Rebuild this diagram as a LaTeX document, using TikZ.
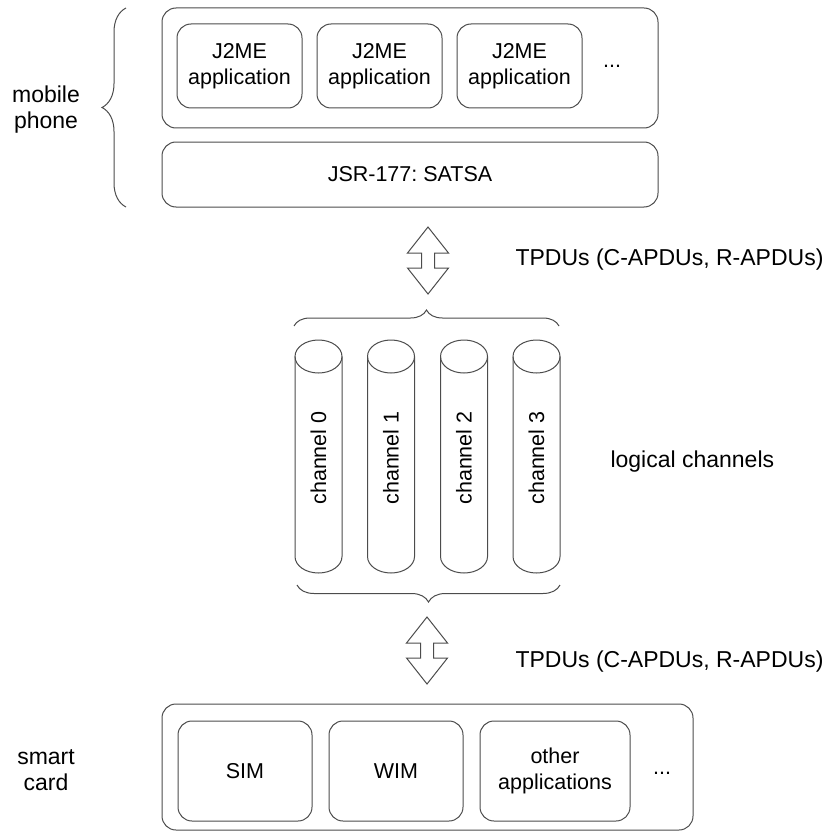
\documentclass[tikz,border=0pt]{standalone}
\usepackage{fontspec}
\setmainfont{Liberation Sans}
\usetikzlibrary{positioning,calc,decorations.pathreplacing}

\begin{document}
\frenchspacing
\begin{tikzpicture}[
    x=1pt, y=-1pt,
    font=\fontsize{21.5}{26}\selectfont,
    node distance=15pt,
    lbl/.style={font=\fontsize{23}{26}\selectfont},
    frame/.style={rectangle, draw=black!70, line width=1pt, rounded corners=14pt, inner sep=0pt},
    app/.style={frame, minimum width=125pt, minimum height=84pt, align=center},
    card/.style={frame, minimum width=134pt, minimum height=100pt, align=center},
    chanline/.style={draw=black!70, line width=1pt},
    brace/.style={draw=black!70, line width=1pt, decorate, decoration={brace, amplitude=#1}},
    fatarrow/.style={draw=black!70, line width=1pt,
        to path={(\tikztostart) -- ++(-20.5,26) -- ++(14,0) -- ++(0,15) -- ++(-14,0) -- (\tikztotarget)
                 -- ++(20.5,-26) -- ++(-14,0) -- ++(0,-15) -- ++(14,0) -- cycle}}
]
    \useasboundingbox (0,0) rectangle (830,832);

    \node[frame, minimum width=496pt, minimum height=120pt] (phone) at (410,68) {};
    \node[app] (app1) at (239.5,66) {J2ME\\application};
    \node[app, right=14pt of app1] (app2) {J2ME\\application};
    \node[app, right=14pt of app2] (app3) {J2ME\\application};
    \node (appdots) at (612,66) {...};
    \node[frame, minimum width=496pt, minimum height=65pt] (satsa) at (410,174.5) {JSR-177: SATSA};
    \node[lbl, align=center] (phonelbl) at (46,110) {mobile\\phone};
    \draw[brace=24pt] (126,207) -- (126,8);

    \coordinate (up1) at (428,227);
    \coordinate (dn1) at (428,294);
    \draw[fatarrow] (up1) to (dn1);
    \node[lbl, anchor=west] (tpdu1) at (512,260) {TPDUs (C-APDUs, R-APDUs)};

    \draw[brace=16pt] (294,326) -- (559,326);
    \foreach \i/\cx in {0/318.5,1/391,2/464,3/536.5} {
        \node[rotate=90] (ch\i) at (\cx,458) {channel \i};
        \draw[chanline] (\cx,356.5) ellipse [x radius=23.5pt, y radius=16.5pt];
        \draw[chanline] (\cx-23.5,356.5) -- (\cx-23.5,556.5)
            arc[start angle=180, end angle=360, x radius=23.5pt, y radius=16.5pt] -- (\cx+23.5,356.5);
    }
    \draw[brace=17pt] (560,585) -- (297,585);
    \node[lbl, anchor=west] (chanlbl) at (607,462) {logical channels};

    \coordinate (up2) at (427,617);
    \coordinate (dn2) at (427,684);
    \draw[fatarrow] (up2) to (dn2);
    \node[lbl, anchor=west] (tpdu2) at (512,662) {TPDUs (C-APDUs, R-APDUs)};

    \node[frame, minimum width=531pt, minimum height=126pt] (sc) at (427.5,767) {};
    \node[card] (sim) at (245,771) {SIM};
    \node[card, right=16pt of sim] (wim) {WIM};
    \node[card, minimum width=150pt, right=16pt of wim] (other) {other\\applications};
    \node (scdots) at (662,773) {...};
    \node[lbl, align=center] (sclbl) at (46,770) {smart\\card};
\end{tikzpicture}
\end{document}
